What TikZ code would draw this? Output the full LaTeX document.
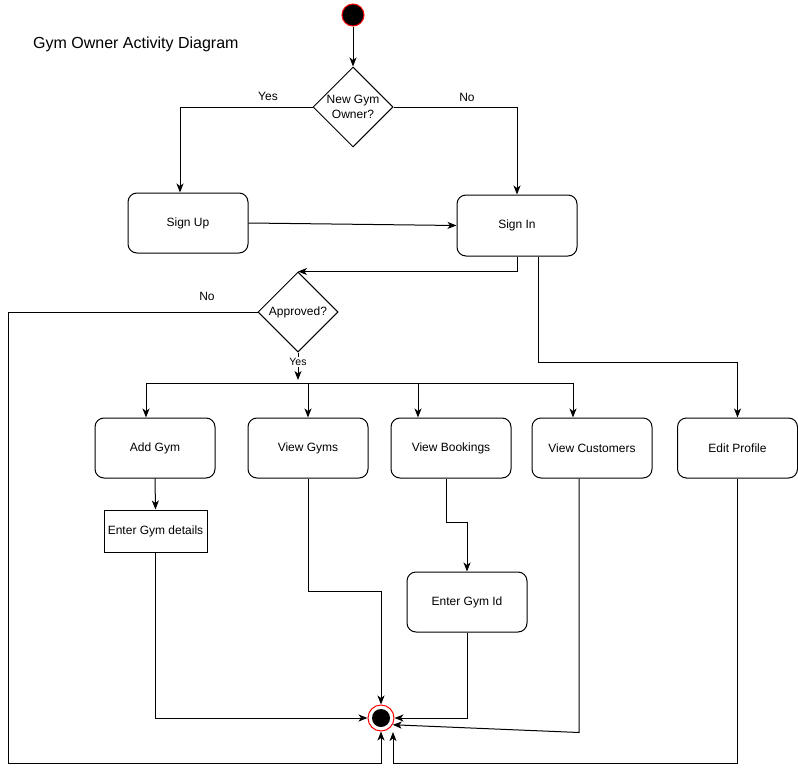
\documentclass[tikz,border=0pt]{standalone}
\usepackage{fontspec}
\setmainfont{Liberation Sans}
\usetikzlibrary{shapes.geometric,arrows.meta,calc}
\begin{document}
\begin{tikzpicture}[x=1pt,y=-1pt,
  every node/.style={font=\fontsize{12}{14}\selectfont},
  line/.style={line width=1pt, draw=black},
  arr/.style={line, -{Stealth[length=9pt,width=7pt,inset=2.5pt]}},
  action/.style={draw, line width=1pt, rounded corners=9pt, minimum width=120pt,
                 minimum height=60pt, inner sep=0, align=center},
  plainbox/.style={draw, line width=1pt, minimum width=103pt, minimum height=42pt, inner sep=0},
  decision/.style={draw, line width=1pt, diamond, minimum size=80pt, inner sep=0,
                   align=center, font=\fontsize{12}{15}\selectfont},
  guard/.style={inner sep=1pt}
]
\useasboundingbox (0,0) rectangle (798,771);

% title
\node[anchor=west, inner sep=0, font=\fontsize{16}{19}\selectfont] (title) at (33,44)
  {Gym Owner Activity Diagram};

% initial and final states
\node[circle, fill=black, draw=red, line width=1pt, minimum size=22pt, inner sep=0] (start) at (353,15) {};
\node[circle, fill=white, draw=red, line width=1pt, minimum size=26pt, inner sep=0] (end) at (381,718) {};
\node[circle, fill=black, minimum size=18pt, inner sep=0] (endcore) at (end.center) {};

% decisions
\node[decision] (newowner) at (353,107) {New Gym\\Owner?};
\node[decision] (approved) at (298,312) {Approved?};

% actions
\node[action] (signup) at (188,223) {Sign Up};
\node[action, minimum height=61pt] (signin) at (517,225.5) {Sign In};
\node[action] (addgym)   at (155,448) {Add Gym};
\node[action] (viewgyms) at (308,448) {View Gyms};
\node[action] (viewbook) at (451,448) {View Bookings};
\node[action] (viewcust) at (592,448) {View Customers};
\node[action] (editprof) at (737.5,448) {Edit Profile};
\node[plainbox] (details) at (155.5,531) {Enter Gym details};
\node[action] (gymid) at (467,602) {Enter Gym Id};

% start to first decision
\draw[arr] (start) -- (newowner);
\draw[arr] (newowner.west) -| ($(signup.north)+(-8,0)$);
\draw[arr] (newowner.east) -| (signin.north);
\node[guard] (yes1) at (268,96) {Yes};
\node[guard] (no1) at (467,97) {No};

\draw[arr] (signup.east) -- (signin.west);
\draw[arr] (signin.south) |- (approved.north);
\draw[arr] ($(signin.south)+(21,0)$) -- ++(0,106) -| (editprof.north);

% rejected owner goes straight to the end
\draw[arr] (approved.west) -- (8,312) -- (8,763) -| (end.south);
\node[guard] (no2) at (207,296) {No};

% approved owner forks to the main actions
\coordinate (bar) at (0,383);
\coordinate (fa) at ($(addgym.north)+(-9,0)$);
\coordinate (fb) at (viewgyms.north);
\coordinate (fc) at ($(viewbook.north)+(-33,0)$);
\coordinate (fd) at ($(viewcust.north)+(-19,0)$);
\draw[arr] (approved.south) -- (298,380);
\node[guard, fill=white, font=\fontsize{10.5}{12}\selectfont] (yes2) at (298,362) {Yes};
\draw[line] (fa |- bar) -- (fd |- bar);
\draw[arr] (fa |- bar) -- (fa);
\draw[arr] (fb |- bar) -- (fb);
\draw[arr] (fc |- bar) -- (fc);
\draw[arr] (fd |- bar) -- (fd);

% follow-up actions
\draw[arr] (addgym.south) -- (details.north);
\draw[arr] ($(viewbook.south)+(-5,0)$) -- ++(0,44) -| (gymid.north);

% all paths join at the final state
\coordinate (endse) at (393,732);
\draw[arr] (details.south) |- (end.west);
\draw[arr] (viewgyms.south) -- ++(0,113) -| (end.north);
\draw[arr] (gymid.south) |- (end.east);
\draw[arr] ($(viewcust.south)+(-13,0)$) -- ++(0,254) -- (end.-30);
\draw[arr] (editprof.south) -- ++(0,285) -| (endse);
\end{tikzpicture}
\end{document}
